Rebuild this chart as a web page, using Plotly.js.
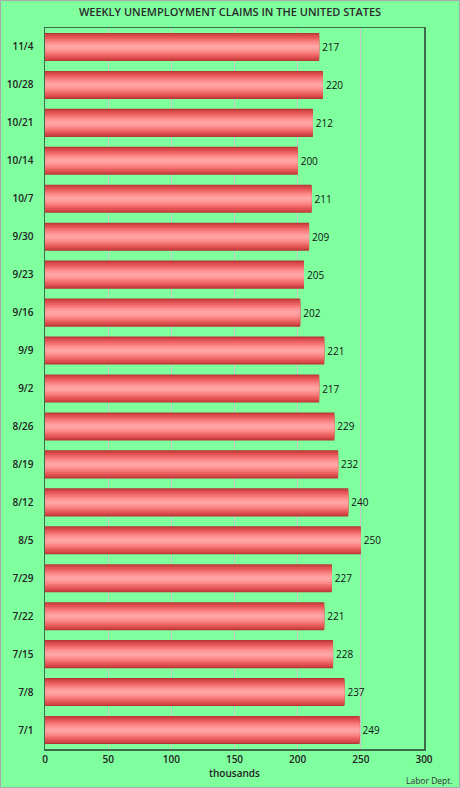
<!DOCTYPE html>
<html>
<head>
<meta charset="utf-8">
<script src="https://cdn.plot.ly/plotly-3.0.1.min.js"></script>
<style>
html,body{margin:0;padding:0;background:#80FF9F;}
#chart{width:460px;height:788px;}
</style>
</head>
<body>
<div id="chart"></div>
<script>
// Data (chronological; first category is drawn at the bottom)
var weeks = ["7/1","7/8","7/15","7/22","7/29","8/5","8/12","8/19","8/26","9/2","9/9","9/16","9/23","9/30","10/7","10/14","10/21","10/28","11/4"];
var claims = [249,237,228,221,227,250,240,232,229,217,221,202,205,209,211,200,212,220,217];
var xTicks = [0,50,100,150,200,250,300];

// Cylinder shading layers (outer -> inner)
var layers = [
  {w:0.74, c:"#B83636"},
  {w:0.68, c:"#D04444"},
  {w:0.60, c:"#E05252"},
  {w:0.50, c:"#EC6262"},
  {w:0.40, c:"#F57575"},
  {w:0.30, c:"#FB8787"},
  {w:0.20, c:"#FF9797"},
  {w:0.10, c:"#FFA3A3"}
];

var traces = layers.map(function(L, i){
  var t = {
    type:"bar", orientation:"h",
    x: claims, y: weeks,
    width: weeks.map(function(){return L.w;}),
    marker:{color:L.c, line:{width:0}},
    hoverinfo:"skip", showlegend:false
  };
  if(i===0){
    t.text = claims.map(String);
    t.textposition = "outside";
    t.textfont = {family:"Open Sans, DejaVu Sans, sans-serif", size:10, color:"#111", weight:500};
    t.cliponaxis = false;
  }
  return t;
});

var layout = {
  width:460, height:788,
  paper_bgcolor:"#80FF9F", plot_bgcolor:"#80FF9F",
  margin:{l:45, r:36, t:28, b:39, pad:0},
  barmode:"overlay",
  title:{text:"WEEKLY UNEMPLOYMENT CLAIMS IN THE UNITED STATES",
         font:{family:"Open Sans, DejaVu Sans, sans-serif", size:11, color:"#2a2a2a", weight:600},
         x:0.5, xanchor:"center", y:0.985, yanchor:"middle", xref:"container", yref:"container"},
  xaxis:{range:[0,300], tickvals:xTicks, ticktext:xTicks.map(String),
         showgrid:true, gridcolor:"#C4C4C4", gridwidth:1, zeroline:false,
         showline:true, linecolor:"#3D6B4B", linewidth:1.5, mirror:true,
         ticks:"", tickfont:{family:"Open Sans, DejaVu Sans, sans-serif", size:10, color:"#222", weight:600},
         title:{text:"thousands", font:{family:"Open Sans, DejaVu Sans, sans-serif", size:10, color:"#222", weight:600}, standoff:4},
         fixedrange:true},
  yaxis:{type:"category", showgrid:false, zeroline:false,
         showline:true, linecolor:"#3D6B4B", linewidth:1.5, mirror:true,
         ticks:"", ticklabelstandoff:8,
         tickfont:{family:"Open Sans, DejaVu Sans, sans-serif", size:10, color:"#222", weight:600},
         fixedrange:true},
  annotations:[{text:"Labor Dept.", xref:"paper", yref:"paper",
    x:(455-45)/379, y:(749-780.5)/721, xanchor:"right", yanchor:"middle", showarrow:false,
    font:{family:"Open Sans, DejaVu Sans, sans-serif", size:8.5, color:"#333"}}],
  shapes:[{type:"rect", xref:"paper", yref:"paper",
    x0:(-45+0.5)/379, x1:(460-45-0.5)/379, y0:(749-787.5)/721, y1:(749-0.5)/721,
    line:{color:"#A8A8A8", width:1}, fillcolor:"rgba(0,0,0,0)", layer:"above"}]
};

Plotly.newPlot("chart", traces, layout, {displayModeBar:false, staticPlot:true});
</script>
</body>
</html>
